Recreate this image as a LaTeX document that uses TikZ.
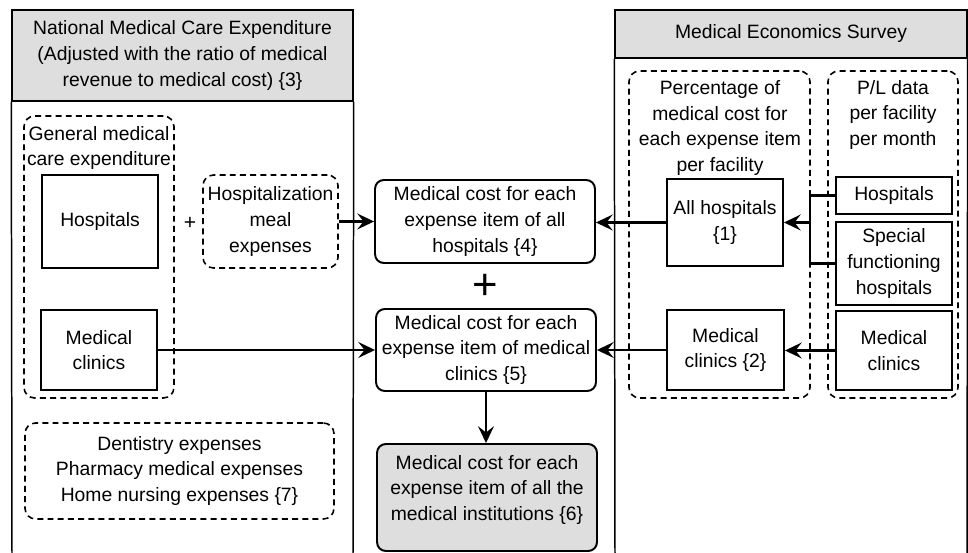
\documentclass[tikz,border=0pt]{standalone}
\usepackage{fontspec}
\setmainfont{Liberation Sans}
\usetikzlibrary{arrows.meta}
\definecolor{hdrgray}{RGB}{222,222,222}
\tikzset{
  panel/.style={line width=0.85pt},
  hdr/.style={draw, fill=hdrgray, line width=0.85pt, align=center, inner sep=0pt},
  box/.style={draw, line width=1.1pt, align=center, inner sep=0pt},
  cbox/.style={draw, line width=1.1pt, rounded corners=5pt, align=center, inner sep=0pt},
  dbox/.style={draw, line width=0.9pt, dash pattern=on 3.4pt off 2.4pt, rounded corners=6pt, align=center, inner sep=0pt},
  lbl/.style={align=center, inner sep=0pt},
  arr/.style={-{Stealth[length=9.5pt,width=9pt,inset=3.5pt]}, line width=1.2pt},
}
\begin{document}
\begin{tikzpicture}[x=0.02cm,y=-0.02cm,font=\fontsize{11}{14.6}\selectfont]
\useasboundingbox (0,0) rectangle (968,553);

% left panel
\node[hdr, minimum width=6.82cm, minimum height=1.82cm] (hdrL) at (182.5,55.5)
  {National Medical Care Expenditure\\(Adjusted with the ratio of medical\\revenue to medical cost) \{3\}};
\coordinate (hdrLbl) at (12,553);
\coordinate (hdrLbr) at (353,553);
\draw[panel] (hdrL.south west) -- (hdrLbl);
\draw[panel] (hdrL.south east) -- (hdrLbr);

\node[dbox, minimum width=3.0cm, minimum height=5.64cm] (genL) at (99,257) {};
\node[lbl] (genLtxt) at (99,148) {General medical\\care expenditure};
\node[box, minimum width=2.32cm, minimum height=1.86cm] (hospL) at (100,221.5) {Hospitals};
\node[box, minimum width=2.32cm, minimum height=1.6cm] (clinL) at (99,350) {Medical\\clinics};
\node[lbl, font=\large] (plusA) at (190,223) {+};
\node[dbox, minimum width=2.7cm, minimum height=1.86cm] (mealL) at (270.5,221.5)
  {Hospitalization\\meal\\expenses};
\node[dbox, minimum width=6.18cm, minimum height=1.92cm] (dentL) at (179.5,471)
  {Dentistry expenses\\Pharmacy medical expenses\\Home nursing expenses \{7\}};

% middle
\node[cbox, minimum width=4.4cm, minimum height=1.66cm] (costH) at (485,221.5)
  {Medical cost for each\\expense item of all\\hospitals \{4\}};
\node[lbl, font=\Huge] (plusB) at (485,287) {+};
\node[cbox, minimum width=4.4cm, minimum height=1.64cm] (costC) at (486,350)
  {Medical cost for each\\expense item of medical\\clinics \{5\}};
\node[cbox, fill=hdrgray, minimum width=4.4cm, minimum height=2.14cm] (costAll) at (487,497.5) {};
\node[lbl] (costAlltxt) at (487,490)
  {Medical cost for each\\expense item of all the\\medical institutions \{6\}};

% right panel
\node[hdr, minimum width=7.04cm, minimum height=0.96cm] (hdrR) at (791,34) {Medical Economics Survey};
\coordinate (hdrRbl) at (615,553);
\coordinate (hdrRbr) at (967,553);
\draw[panel] (hdrR.south west) -- (hdrRbl);
\draw[panel] (hdrR.south east) -- (hdrRbr);

\node[dbox, minimum width=3.62cm, minimum height=6.54cm] (pctR) at (719.5,234.5) {};
\node[lbl] (pctRtxt) at (720,128)
  {Percentage of\\medical cost for\\each expense item\\per facility};
\node[dbox, minimum width=2.6cm, minimum height=6.54cm] (plR) at (893,234.5) {};
\node[lbl] (plRtxt) at (893,115) {P/L data\\per facility\\per month};

\node[box, minimum width=2.32cm, minimum height=1.74cm] (allH) at (725,222.5) {All hospitals\\\{1\}};
\node[box, minimum width=2.34cm, minimum height=1.6cm] (clinM) at (725.5,350) {Medical\\clinics \{2\}};
\node[box, minimum width=2.32cm, minimum height=0.74cm] (hospR) at (894,195.5) {Hospitals};
\node[box, minimum width=2.32cm, minimum height=1.66cm] (specR) at (894,263.5)
  {Special\\functioning\\hospitals};
\node[box, minimum width=2.32cm, minimum height=1.58cm] (clinR) at (894,350.5) {Medical\\clinics};

% connectors
\coordinate (jn) at (810,222.5);
\draw[line width=1.3pt] (hospR.west) -| (jn) |- (specR.west);
\draw[arr] (jn) -- (allH.east);
\draw[arr] (allH.west) -- (allH.west -| costH.east);
\draw[arr] (clinR.west) -- (clinR.west -| clinM.east);
\draw[arr] (clinM.west) -- (clinM.west -| costC.east);
\draw[arr] (mealL.east) -- (costH.west);
\draw[arr] (clinL.east) -- (clinL.east -| costC.west);
\draw[arr] (costC.south) -- (costC.south |- costAll.north);
\end{tikzpicture}
\end{document}
